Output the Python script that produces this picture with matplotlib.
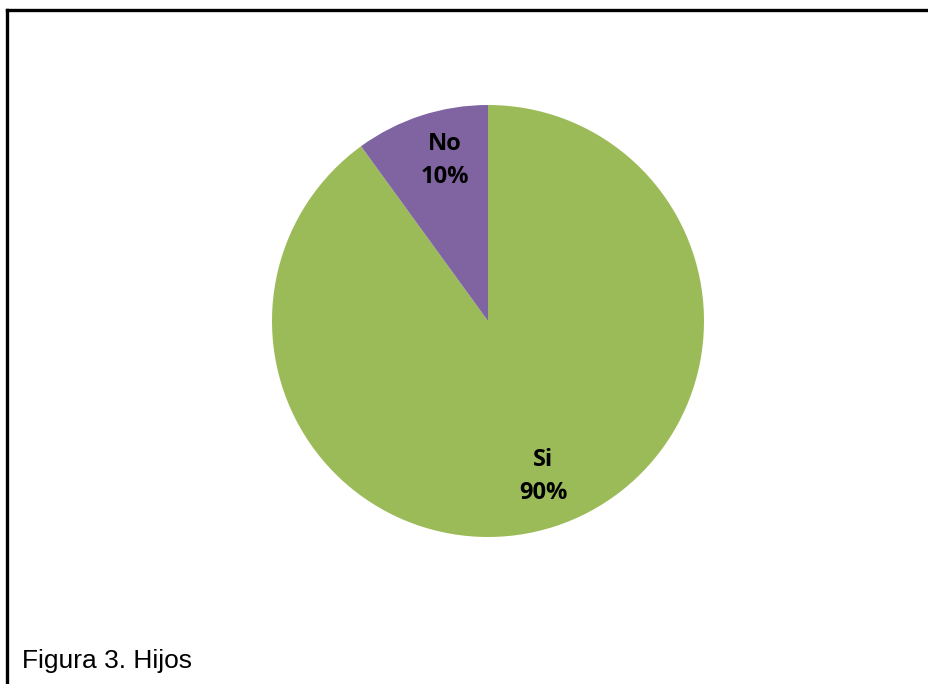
import matplotlib.pyplot as plt
from matplotlib.lines import Line2D

labels = ["Si", "No"]
shares = [90, 10]
colors = ["#9BBB59", "#8064A2"]
caption = "Figura 3. Hijos"

fig = plt.figure(figsize=(9.29, 6.84), dpi=100)

# pie area: center (488, 321) px, radius ~215 px
W, H = 929, 684
ax = fig.add_axes([(488 - 216) / W, (H - 321 - 216) / H, 432 / W, 432 / H])
wedges, _ = ax.pie(shares, colors=colors, startangle=90, counterclock=False,
                   radius=1.0, wedgeprops=dict(linewidth=0))
ax.set_xlim(-1, 1)
ax.set_ylim(-1, 1)
ax.set_aspect("equal")
ax.axis("off")

# slice labels
label_pos = {"Si": (0.255, -0.722), "No": (-0.199, 0.745)}
for lab, val in zip(labels, shares):
    x, y = label_pos[lab]
    ax.text(x, y, f"{lab}\n{val}%", ha="center", va="center",
            fontsize=17, fontweight="bold", family="Open Sans",
            linespacing=1.5, color="black")

# frame lines: top and left only
fig.add_artist(Line2D([7 / W, 1], [1 - 10 / H, 1 - 10 / H], color="black",
                      linewidth=2.4, transform=fig.transFigure))
fig.add_artist(Line2D([7 / W, 7 / W], [0, 1 - 10 / H], color="black",
                      linewidth=2.4, transform=fig.transFigure))

fig.text(22 / W, 1 - 668 / H, caption, fontsize=19, family="Liberation Sans",
         ha="left", va="baseline")

fig.savefig("out.png", dpi=100)
